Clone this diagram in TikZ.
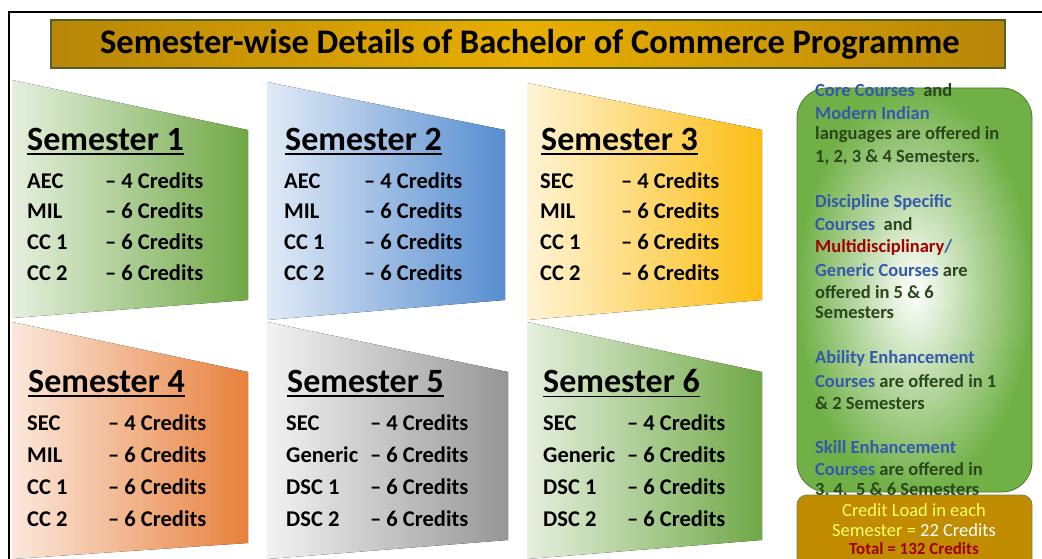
\documentclass[tikz,border=0pt]{standalone}
\usepackage{fontspec}
\setmainfont{Carlito}
\usetikzlibrary{positioning}

\definecolor{semgreen}{RGB}{112,168,70}
\definecolor{semblue}{RGB}{86,141,208}
\definecolor{semyellow}{RGB}{252,190,20}
\definecolor{semorange}{RGB}{232,128,60}
\definecolor{semgray}{RGB}{150,150,150}
\definecolor{titlegold}{RGB}{184,134,8}
\definecolor{titlelight}{RGB}{232,174,0}
\definecolor{boxgold}{RGB}{194,140,0}
\definecolor{olivedark}{RGB}{80,96,40}
\definecolor{notegreen}{RGB}{42,70,28}
\definecolor{noteblue}{RGB}{52,90,172}
\definecolor{notered}{RGB}{160,0,0}
\definecolor{noteyellow}{RGB}{255,255,110}
\definecolor{panelgreen}{RGB}{112,176,70}

\tikzset{
  semhead/.style={anchor=west, inner sep=0pt, font=\fontsize{34}{34}\selectfont\bfseries},
  course/.style={anchor=west, inner sep=0pt, font=\fontsize{22.5}{22.5}\selectfont\bfseries},
  note/.style={anchor=west, inner sep=0pt, text=notegreen, font=\fontsize{18.5}{18.5}\selectfont\bfseries},
  total/.style={inner sep=0pt, font=\fontsize{18.5}{18.5}\selectfont},
  headline/.style={line width=1.8pt},
}

\begin{document}
\begin{tikzpicture}[x=1pt, y=-1pt]
    \useasboundingbox (0,0) rectangle (1042,559);

    % frame and title
    \draw [line width=1.6pt] (9,559) -- (9,12) -- (1042,12);
    \shade [left color=titlegold, right color=titlegold, middle color=titlelight]
      (51,20) rectangle (1005,68);
    \draw [olivedark, line width=1.6pt] (51,20) rectangle (1005,68);
    \node [inner sep=0pt, font=\fontsize{34.5}{34.5}\selectfont\bfseries] (title) at (530,44)
      {Semester-wise Details of Bachelor of Commerce Programme};

    % semester panels
    \fill [left color=semgreen!18, right color=semgreen] (12,80) -- (248,130) -- (248,300) -- (12,318) -- cycle;
    \fill [left color=semblue!18, right color=semblue] (267,82) -- (505,130) -- (505,300) -- (267,320) -- cycle;
    \fill [left color=semyellow!18, right color=semyellow] (527,83) -- (762,130) -- (762,300) -- (527,320) -- cycle;
    \fill [left color=semorange!18, right color=semorange] (12,322) -- (248,372) -- (248,543) -- (12,559) -- cycle;
    \fill [left color=semgray!12, right color=semgray] (267,322) -- (508,372) -- (508,540) -- (267,559) -- cycle;
    \fill [left color=semgreen!18, right color=semgreen] (527,322) -- (762,372) -- (762,540) -- (527,559) -- cycle;

    \node [semhead] (h1) at (27,139) {Semester 1};
    \node [semhead] (h2) at (285,139) {Semester 2};
    \node [semhead] (h3) at (541,139) {Semester 3};
    \node [semhead] (h4) at (28,381) {Semester 4};
    \node [semhead] (h5) at (287,381) {Semester 5};
    \node [semhead] (h6) at (543,381) {Semester 6};
    \foreach \h in {h1,h2,h3,h4,h5,h6}
      \draw [headline] ([yshift=-4pt]\h.base west) -- ([yshift=-4pt]\h.base east);

    \foreach \y/\lab/\val [count=\i] in {181/AEC/4, 211/MIL/6, 242/CC 1/6, 273/CC 2/6} {
      \node [course] (s1l\i) at (27,\y) {\lab};
      \node [course] (s1v\i) at (105,\y) {-- \val{} Credits};
      \node [course] (s2l\i) at (284,\y) {\lab};
      \node [course] (s2v\i) at (364,\y) {-- \val{} Credits};
    }
    \foreach \y/\lab/\val [count=\i] in {181/SEC/4, 211/MIL/6, 242/CC 1/6, 273/CC 2/6} {
      \node [course] (s3l\i) at (540,\y) {\lab};
      \node [course] (s3v\i) at (621,\y) {-- \val{} Credits};
    }
    \foreach \y/\lab/\val [count=\i] in {423/SEC/4, 455/MIL/6, 487/CC 1/6, 519/CC 2/6} {
      \node [course] (s4l\i) at (27,\y) {\lab};
      \node [course] (s4v\i) at (108,\y) {-- \val{} Credits};
    }
    \foreach \y/\lab/\val [count=\i] in {423/SEC/4, 455/Generic/6, 487/DSC 1/6, 519/DSC 2/6} {
      \node [course] (s5l\i) at (286,\y) {\lab};
      \node [course] (s5v\i) at (370,\y) {-- \val{} Credits};
      \node [course] (s6l\i) at (543,\y) {\lab};
      \node [course] (s6v\i) at (627,\y) {-- \val{} Credits};
    }

    % notes on the right
    \shade [rounded corners=30pt, inner color=white, outer color=panelgreen]
      (797,88) rectangle (1032,492);
    \draw [rounded corners=30pt, panelgreen!70!black, line width=0.8pt]
      (797,88) rectangle (1032,492);

    \node [note] (n1) at (815,90) {\textcolor{noteblue}{Core Courses}\ \ and};
    \node [note] (n2) at (815,113) {\textcolor{noteblue}{Modern Indian}};
    \node [note] (n3) at (815,135) {languages are offered in};
    \node [note] (n4) at (815,157) {1, 2, 3 \& 4 Semesters.};
    \node [note] (n5) at (815,202) {\textcolor{noteblue}{Discipline Specific}};
    \node [note] (n6) at (815,224) {\textcolor{noteblue}{Courses}\ \ and};
    \node [note] (n7) at (815,247) {\textcolor{notered}{Multidisciplinary}\textcolor{noteblue}{/}};
    \node [note] (n8) at (815,270) {\textcolor{noteblue}{Generic Courses} are};
    \node [note] (n9) at (815,292) {offered in 5 \& 6};
    \node [note] (n10) at (815,313) {Semesters};
    \node [note] (n11) at (815,358) {\textcolor{noteblue}{Ability Enhancement}};
    \node [note] (n12) at (815,381) {\textcolor{noteblue}{Courses} are offered in 1};
    \node [note] (n13) at (815,403) {\& 2 Semesters};
    \node [note] (n14) at (815,447) {\textcolor{noteblue}{Skill Enhancement}};
    \node [note] (n15) at (815,469) {\textcolor{noteblue}{Courses} are offered in};
    \node [note] (n16) at (815,490) {3, 4,\ \ 5 \& 6 Semesters};

    % credit load box
    \draw [rounded corners=10pt, fill=boxgold, draw=olivedark!80, line width=0.8pt]
      (797,495) rectangle (1032,575);
    \node [total, text=noteyellow] (t1) at (914,510) {Credit Load in each};
    \node [total, text=noteyellow] (t2) at (914,530) {Semester = \textcolor{white}{22 Credits}};
    \node [total, text=notered, font=\fontsize{17}{17}\selectfont\bfseries] (t3) at (914,549) {Total = 132 Credits};
\end{tikzpicture}
\end{document}
